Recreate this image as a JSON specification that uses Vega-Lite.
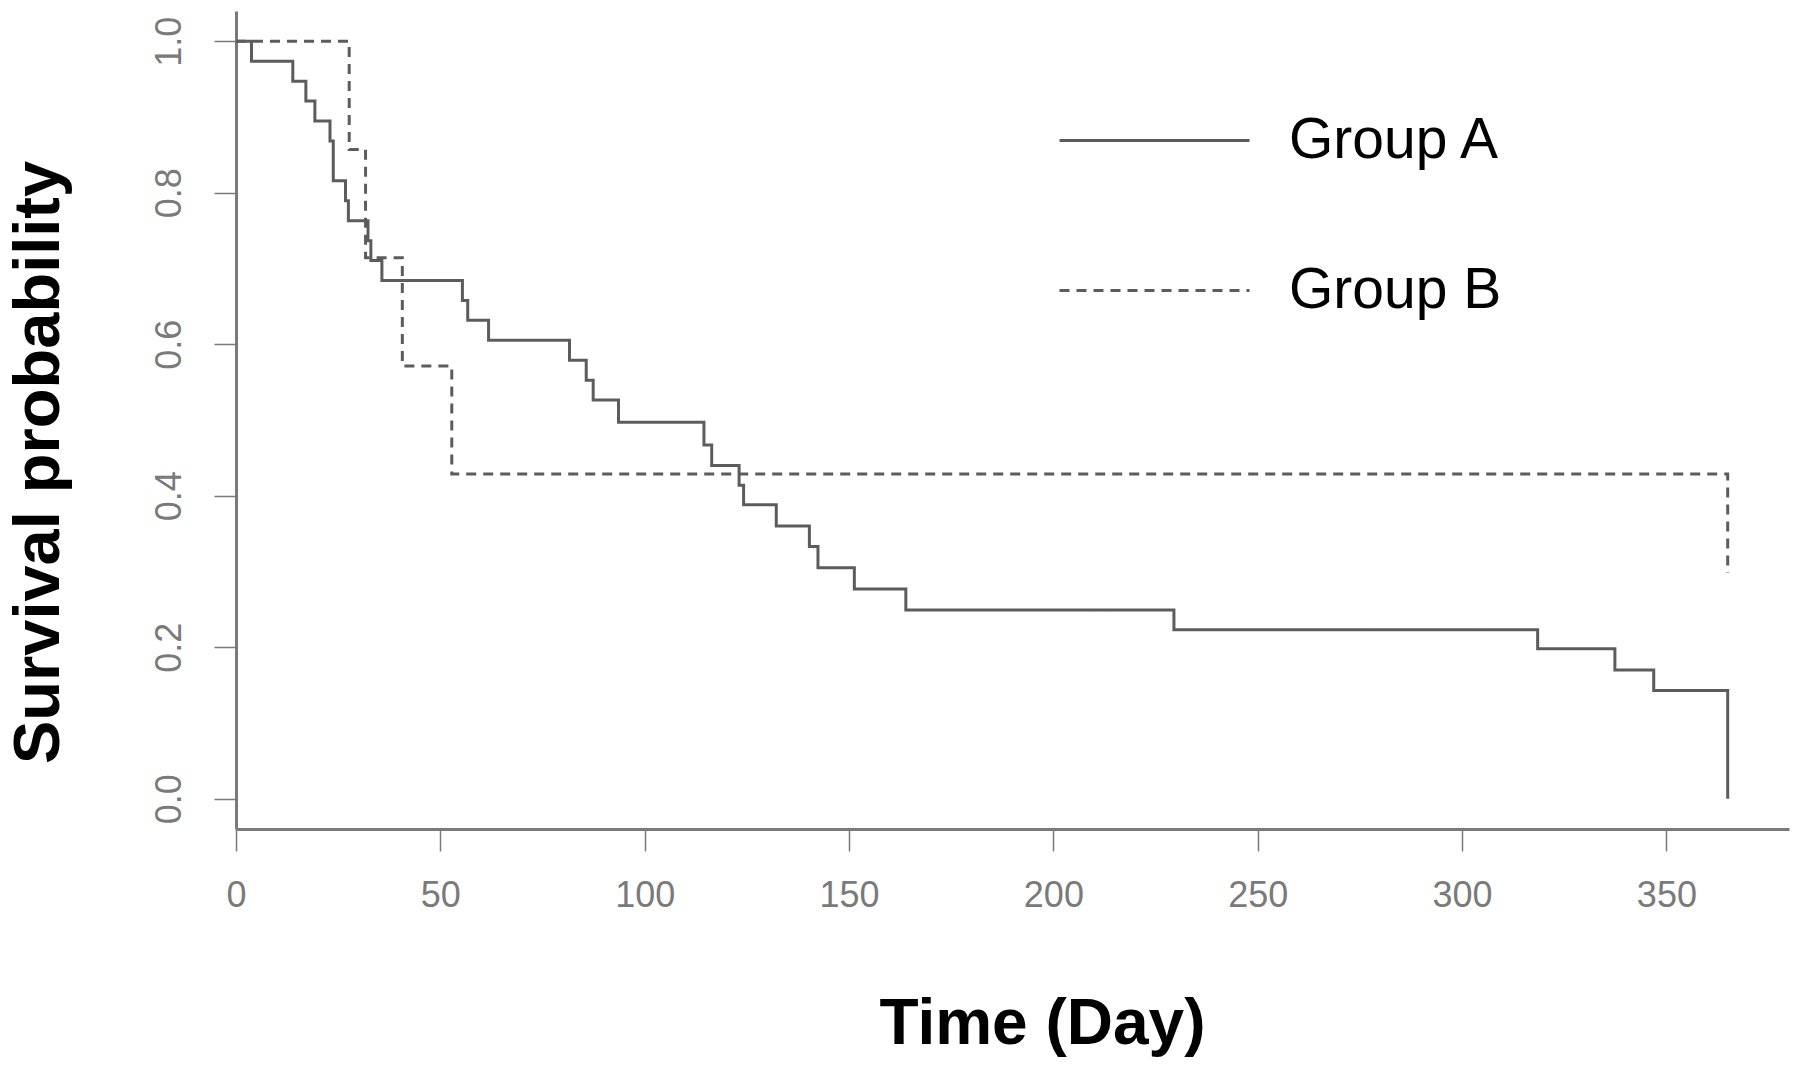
{
  "$schema": "https://vega.github.io/schema/vega-lite/v6.json",
  "autosize": {"type": "none"},
  "padding": {"left": 236, "top": 11, "right": 6, "bottom": 239},
  "width": 1553,
  "height": 818,
  "background": "white",
  "config": {
    "view": {"stroke": null},
    "font": "Liberation Sans"
  },
  "data": {
    "values": [
      {"t": 0, "s": 1.0, "group": "Group A"},
      {"t": 3.8, "s": 0.9737, "group": "Group A"},
      {"t": 13.9, "s": 0.9474, "group": "Group A"},
      {"t": 17.1, "s": 0.9211, "group": "Group A"},
      {"t": 19.3, "s": 0.8947, "group": "Group A"},
      {"t": 23.0, "s": 0.8684, "group": "Group A"},
      {"t": 23.8, "s": 0.8158, "group": "Group A"},
      {"t": 26.8, "s": 0.7895, "group": "Group A"},
      {"t": 27.5, "s": 0.7632, "group": "Group A"},
      {"t": 32.3, "s": 0.7368, "group": "Group A"},
      {"t": 33.0, "s": 0.7105, "group": "Group A"},
      {"t": 35.7, "s": 0.6842, "group": "Group A"},
      {"t": 55.4, "s": 0.6579, "group": "Group A"},
      {"t": 56.7, "s": 0.6316, "group": "Group A"},
      {"t": 61.8, "s": 0.6053, "group": "Group A"},
      {"t": 81.6, "s": 0.5789, "group": "Group A"},
      {"t": 85.7, "s": 0.5526, "group": "Group A"},
      {"t": 87.4, "s": 0.5263, "group": "Group A"},
      {"t": 93.6, "s": 0.497, "group": "Group A"},
      {"t": 114.5, "s": 0.467, "group": "Group A"},
      {"t": 116.4, "s": 0.44, "group": "Group A"},
      {"t": 123.1, "s": 0.414, "group": "Group A"},
      {"t": 124.2, "s": 0.388, "group": "Group A"},
      {"t": 132.2, "s": 0.36, "group": "Group A"},
      {"t": 140.3, "s": 0.333, "group": "Group A"},
      {"t": 142.4, "s": 0.305, "group": "Group A"},
      {"t": 151.3, "s": 0.277, "group": "Group A"},
      {"t": 163.9, "s": 0.249, "group": "Group A"},
      {"t": 229.5, "s": 0.223, "group": "Group A"},
      {"t": 318.5, "s": 0.198, "group": "Group A"},
      {"t": 337.4, "s": 0.17, "group": "Group A"},
      {"t": 346.9, "s": 0.143, "group": "Group A"},
      {"t": 365, "s": 0.0, "group": "Group A"},
      {"t": 0, "s": 1.0, "group": "Group B"},
      {"t": 27.7, "s": 0.8571, "group": "Group B"},
      {"t": 31.7, "s": 0.7143, "group": "Group B"},
      {"t": 40.7, "s": 0.5714, "group": "Group B"},
      {"t": 52.8, "s": 0.4286, "group": "Group B"},
      {"t": 365, "s": 0.298, "group": "Group B"}
    ]
  },
  "mark": {"type": "line", "interpolate": "step-after", "color": "#5c5c5c", "strokeWidth": 3, "clip": false},
  "encoding": {
    "x": {
      "field": "t",
      "type": "quantitative",
      "scale": {"domain": [0, 380], "nice": false, "zero": false},
      "axis": {
        "title": "Time (Day)",
        "values": [0, 50, 100, 150, 200, 250, 300, 350],
        "grid": false,
        "domainColor": "#7a7a7a",
        "domainWidth": 3,
        "tickColor": "#7a7a7a",
        "tickWidth": 1.5,
        "tickSize": 22,
        "labelFont": "Liberation Sans",
        "labelFontSize": 36,
        "labelColor": "#7a7a7a",
        "labelPadding": 55,
        "labelBaseline": "alphabetic",
        "labelAlign": "center",
        "labelFlush": false,
        "labelOverlap": false,
        "titleFont": "Liberation Sans",
        "titleFontSize": 64,
        "titleFontWeight": "bold",
        "titleColor": "#000000",
        "titleX": 806,
        "titleY": 214,
        "titleAlign": "center",
        "titleBaseline": "alphabetic"
      }
    },
    "y": {
      "field": "s",
      "type": "quantitative",
      "scale": {"domain": [-0.04, 1.04], "nice": false, "zero": false},
      "axis": {
        "title": "Survival probability",
        "values": [0, 0.2, 0.4, 0.6, 0.8, 1.0],
        "format": ".1f",
        "grid": false,
        "domainColor": "#7a7a7a",
        "domainWidth": 3,
        "tickColor": "#7a7a7a",
        "tickWidth": 1.5,
        "tickSize": 22,
        "labelFont": "Liberation Sans",
        "labelFontSize": 36,
        "labelColor": "#7a7a7a",
        "labelAngle": 270,
        "labelAlign": "center",
        "labelBaseline": "alphabetic",
        "labelPadding": 34,
        "labelFlush": false,
        "labelOverlap": false,
        "titleFont": "Liberation Sans",
        "titleFontSize": 65,
        "titleFontWeight": "bold",
        "titleColor": "#000000",
        "titleAngle": 270,
        "titleX": -178,
        "titleY": 451,
        "titleAlign": "center",
        "titleBaseline": "alphabetic"
      }
    },
    "strokeDash": {
      "field": "group",
      "type": "nominal",
      "scale": {"domain": ["Group A", "Group B"], "range": [[1, 0], [10, 7]]},
      "legend": {
        "title": null,
        "orient": "none",
        "legendX": 822,
        "legendY": 33,
        "padding": 0,
        "symbolType": "stroke",
        "symbolSize": 36100,
        "symbolStrokeColor": "#5c5c5c",
        "symbolStrokeWidth": 3,
        "labelFont": "Liberation Sans",
        "labelFontSize": 57,
        "labelColor": "#000000",
        "labelLimit": 0,
        "labelOffset": 38,
        "rowPadding": 25
      }
    }
  }
}
